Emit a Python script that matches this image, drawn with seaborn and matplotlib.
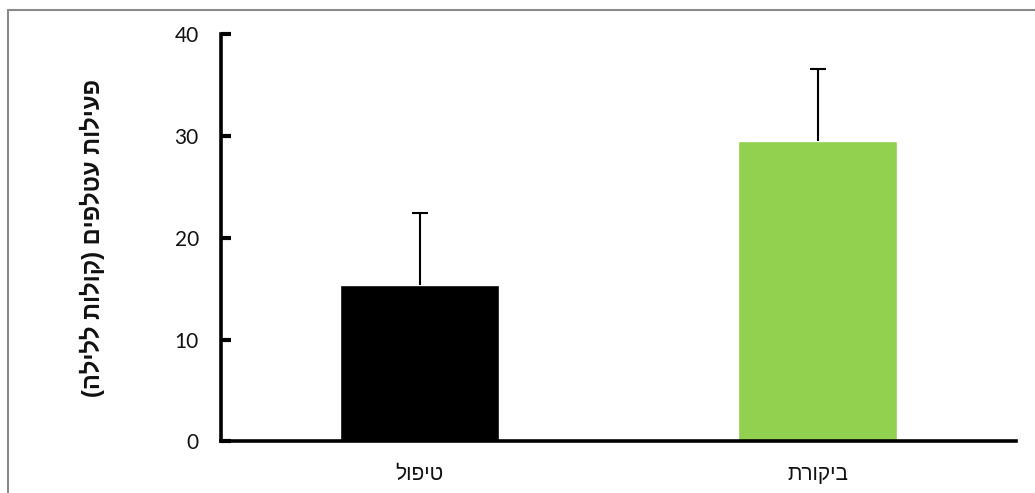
import matplotlib
matplotlib.use("Agg")
import matplotlib.pyplot as plt
import seaborn as sns
import pandas as pd
from matplotlib.lines import Line2D

# Data (logical Hebrew strings)
categories = ["טיפול", "ביקורת"]
values = [15.4, 29.5]
errors = [7.0, 7.1]
colors = ["#000000", "#92D050"]
y_label = "פעילות עטלפים (קולות ללילה)"
y_ticks = [0, 10, 20, 30, 40]


def visual(s):
    """Convert logical RTL Hebrew string to visual LTR order for matplotlib."""
    swap = {"(": ")", ")": "("}
    return "".join(swap.get(c, c) for c in reversed(s))


sns.set_theme(style="white")
plt.rcParams["font.family"] = ["Liberation Sans", "DejaVu Sans"]

df = pd.DataFrame({"cat": categories, "val": values})

fig = plt.figure(figsize=(10.35, 4.93), dpi=100)
ax = fig.add_axes([0.2135, 0.1045, 0.7685, 0.8265])

sns.barplot(data=df, x="cat", y="val", hue="cat", palette=colors,
            width=0.4, ax=ax, legend=False, errorbar=None, saturation=1)

eb = ax.errorbar(range(len(values)), values, yerr=[[0] * len(errors), errors],
                 fmt="none", ecolor="black", elinewidth=1.5, capsize=6,
                 capthick=1.5, zorder=1)
# keep only the upper caps (plus-only error bars)
caps = eb[1]
if len(caps) >= 2:
    caps[0].remove()

ax.set_xlim(-0.5, 1.5)
ax.set_ylim(0, 40)
ax.set_yticks(y_ticks)
ax.set_yticklabels([str(t) for t in y_ticks], fontsize=15, color="#111111",
                   family=["Lato", "DejaVu Sans"])
ax.set_xticks(range(len(categories)))
ax.set_xticklabels([visual(c) for c in categories], fontsize=15, color="#111111")
ax.tick_params(axis="y", left=True, direction="in", length=7, width=3,
               color="black", pad=16)
ax.tick_params(axis="x", bottom=False, length=0, pad=17)
ax.set_xlabel("")
ax.set_ylabel(visual(y_label), fontsize=17, fontweight="bold", labelpad=50,
              color="#111111")

for side in ["top", "right"]:
    ax.spines[side].set_visible(False)
for side in ["left", "bottom"]:
    ax.spines[side].set_visible(True)
    ax.spines[side].set_linewidth(2.6)
    ax.spines[side].set_color("black")
ax.grid(False)

# outer chart frame (partially visible)
fig.add_artist(Line2D([8 / 1035, 1.0], [1 - 10 / 493, 1 - 10 / 493],
                      transform=fig.transFigure, color="#8a8a8a", lw=1.5))
fig.add_artist(Line2D([8 / 1035, 8 / 1035], [0, 1 - 10 / 493],
                      transform=fig.transFigure, color="#8a8a8a", lw=1.5))

fig.savefig("out.png", dpi=100)
